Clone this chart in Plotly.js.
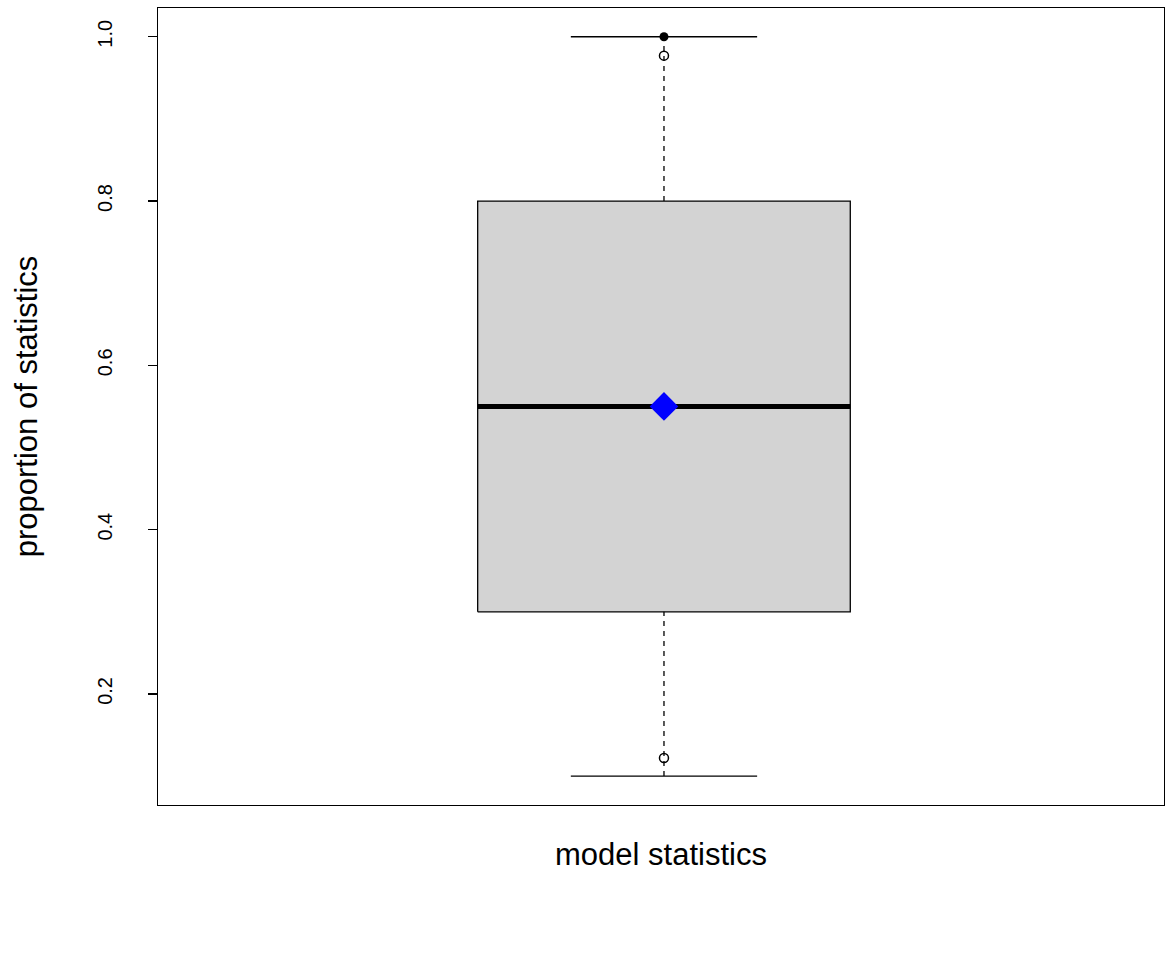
<!DOCTYPE html>
<html><head><script src="https://cdn.plot.ly/plotly-3.0.1.min.js"></script>
<style>body{margin:0;background:#fff}</style></head><body>
<div id="c" style="width:1166px;height:964px"></div>
<script>
const q1 = 0.3, med = 0.55, q3 = 0.8, whiskLo = 0.1, whiskHi = 1.0;
const meanVal = 0.55;
const openOutliers = [0.977, 0.122];
const filledPoints = [1.0];
const yTicks = [0.2, 0.4, 0.6, 0.8, 1.0];
const yTickText = ["0.2", "0.4", "0.6", "0.8", "1.0"];
const bw = 0.5, cw = 0.25;
const blk = {color:'#000', width:1.3};
const traces = [
 {x:[-bw,bw,bw,-bw,-bw], y:[q1,q1,q3,q3,q1], mode:'lines', fill:'toself', fillcolor:'#d3d3d3', line:blk},
 {x:[0,0], y:[q3,whiskHi], mode:'lines', line:{color:'#000',width:1.3,dash:'5px,5px'}},
 {x:[0,0], y:[whiskLo,q1], mode:'lines', line:{color:'#000',width:1.3,dash:'5px,5px'}},
 {x:[-cw,cw], y:[whiskHi,whiskHi], mode:'lines', line:blk},
 {x:[-cw,cw], y:[whiskLo,whiskLo], mode:'lines', line:blk},
 {x:[-bw,bw], y:[med,med], mode:'lines', line:{color:'#000',width:5}},
 {x:openOutliers.map(()=>0), y:openOutliers, mode:'markers', marker:{symbol:'circle-open',size:9,color:'#000',line:{width:1.5}}},
 {x:filledPoints.map(()=>0), y:filledPoints, mode:'markers', marker:{symbol:'circle',size:9,color:'#000'}},
 {x:[0], y:[meanVal], mode:'markers', marker:{symbol:'diamond',size:22,color:'#0000ff'}}
];
const font = {family:'Liberation Sans, Arial, sans-serif', size:20, color:'#000'};
Plotly.newPlot('c', traces, {
 width:1166, height:964, showlegend:false, font:font,
 paper_bgcolor:'#fff', plot_bgcolor:'#fff',
 margin:{l:158,r:2,t:8,b:159},
 xaxis:{range:[-1.358,1.342], showgrid:false, zeroline:false, showticklabels:false, ticks:'',
   showline:true, mirror:true, linecolor:'#000', linewidth:1.3,
   title:{text:'model statistics', font:{size:31}, standoff:38}},
 yaxis:{range:[0.0648,1.035], showgrid:false, zeroline:false, tickvals:yTicks, ticktext:yTickText,
   tickangle:-90, ticks:'outside', ticklen:9, tickcolor:'#000', tickwidth:1.3, ticklabelstandoff:28,
   showline:true, mirror:true, linecolor:'#000', linewidth:1.3,
   title:{text:'proportion of statistics', font:{size:31}, standoff:47}}
}, {staticPlot:true});
</script></body></html>
